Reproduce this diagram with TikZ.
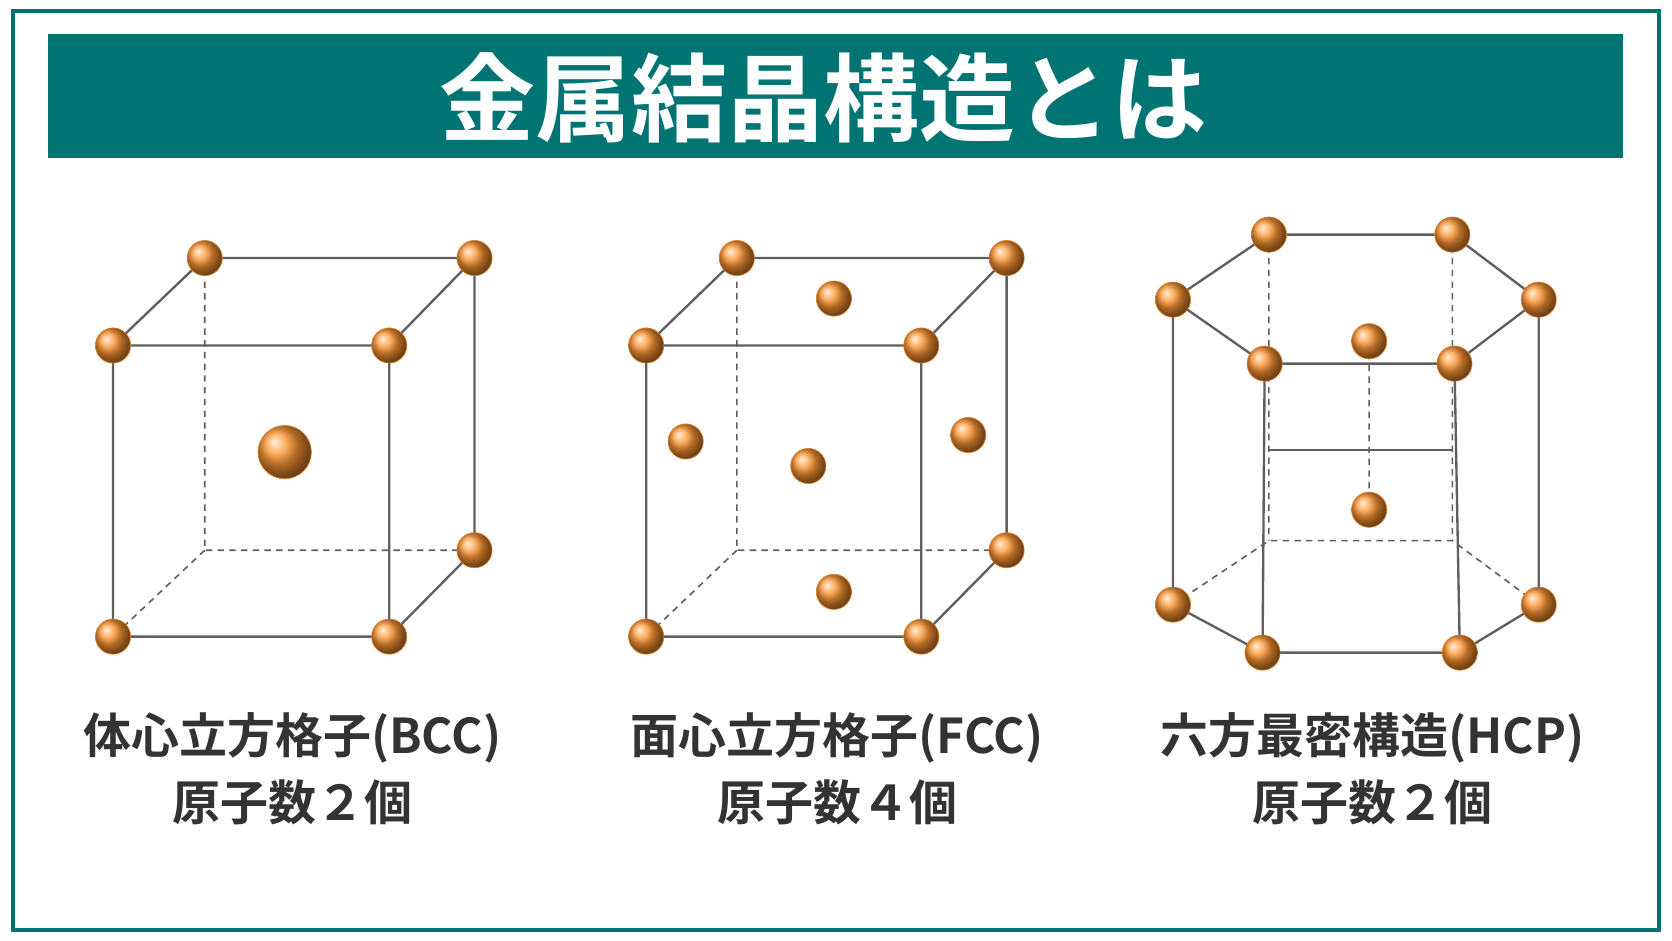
\documentclass[tikz,border=0pt]{standalone}
\usepackage{fontspec}
\usetikzlibrary{positioning}
\setmainfont{Noto Sans CJK JP}
\newfontfamily\jpbold{Noto Sans CJK JP Bold}
\definecolor{teal0}{RGB}{0,115,115}
\definecolor{edge0}{RGB}{95,95,95}
\definecolor{atomc}{RGB}{255,150,50}
\begin{document}
\begin{tikzpicture}
  [x=1pt,y=-1pt,
  atom/.style={circle,inner sep=0pt,minimum size=33pt,ball color=atomc,draw=atomc!85!black,line width=0.6pt},
  big/.style={atom,minimum size=50pt},
  solid0/.style={draw=edge0,line width=2.2pt},
  hidden/.style={draw=edge0,line width=1.5pt,dash pattern=on 6pt off 5pt},
  label/.style={font=\jpbold\fontsize{45}{52}\selectfont,text=black!80}]

  \useasboundingbox (0,0) rectangle (1568,882);
  \fill[white] (0,0) rectangle (1568,882);
  \draw[teal0,line width=4pt] (12,10) rectangle (1556,872);
  \fill[teal0] (45,32) rectangle (1522,148);
  \node[font=\jpbold\fontsize{90}{96}\selectfont,text=white] (title) at (772,92) {金属結晶構造とは};

  % BCC
  \coordinate (a1) at (106,324); \coordinate (a2) at (365,324);
  \coordinate (a3) at (365,597); \coordinate (a4) at (106,597);
  \coordinate (a5) at (192,242); \coordinate (a6) at (445,242);
  \coordinate (a7) at (445,516); \coordinate (a8) at (192,516);
  \draw[hidden] (a5) -- (a8) -- (a7) (a8) -- (a4);
  \draw[solid0] (a1) -- (a2) -- (a3) -- (a4) -- cycle (a1) -- (a5) -- (a6) -- (a2) (a6) -- (a7) -- (a3);
  \foreach \i in {1,...,7} \node[atom] (ba\i) at (a\i) {};
  \node[big] (bc) at (267,424) {};

  % FCC
  \coordinate (f1) at (606,324); \coordinate (f2) at (864,324);
  \coordinate (f3) at (864,597); \coordinate (f4) at (606,597);
  \coordinate (f5) at (691,242); \coordinate (f6) at (944,242);
  \coordinate (f7) at (944,516); \coordinate (f8) at (691,516);
  \draw[hidden] (f5) -- (f8) -- (f7) (f8) -- (f4);
  \draw[solid0] (f1) -- (f2) -- (f3) -- (f4) -- cycle (f1) -- (f5) -- (f6) -- (f2) (f6) -- (f7) -- (f3);
  \foreach \i in {1,...,7} \node[atom] (fa\i) at (f\i) {};
  \foreach \p [count=\j] in {(782,280),(643,414),(908,408),(782,555),(758,437)}
    \node[atom] (ff\j) at \p {};

  % HCP
  \coordinate (h1) at (1190,220); \coordinate (h2) at (1362,220);
  \coordinate (h3) at (1443,281); \coordinate (h4) at (1364,341);
  \coordinate (h5) at (1186,341); \coordinate (h6) at (1100,281);
  \coordinate (g1) at (1190,507); \coordinate (g2) at (1362,507);
  \coordinate (g3) at (1443,567); \coordinate (g4) at (1369,612);
  \coordinate (g5) at (1184,612); \coordinate (g6) at (1100,567);
  \coordinate (ht) at (1284,320); \coordinate (hm) at (1284,478);
  \draw[hidden] (h1) -- (g1) (h2) -- (g2) (g6) -- (g1) -- (g2) -- (g3) (ht) -- (hm);
  \draw[edge0,line width=1.4pt] (1190,422) -- (1362,422);
  \draw[solid0] (h1) -- (h2) -- (h3) -- (h4) -- (h5) -- (h6) -- cycle
    (g3) -- (g4) -- (g5) -- (g6)
    (h3) -- (g3) (h4) -- (g4) (h5) -- (g5) (h6) -- (g6);
  \foreach \i in {1,...,6} \node[atom] (ha\i) at (h\i) {};
  \foreach \i in {3,...,6} \node[atom] (hb\i) at (g\i) {};
  \node[atom] (hc1) at (ht) {};
  \node[atom] (hc2) at (hm) {};

  % labels
  \node[label] (l1) at (274,692) {体心立方格子(BCC)};
  \node[label,below=8pt of l1] (n1) {原子数２個};
  \node[label] (l2) at (785,692) {面心立方格子(FCC)};
  \node[label,below=8pt of l2] (n2) {原子数４個};
  \node[label] (l3) at (1287,692) {六方最密構造(HCP)};
  \node[label,below=8pt of l3] (n3) {原子数２個};
\end{tikzpicture}
\end{document}
